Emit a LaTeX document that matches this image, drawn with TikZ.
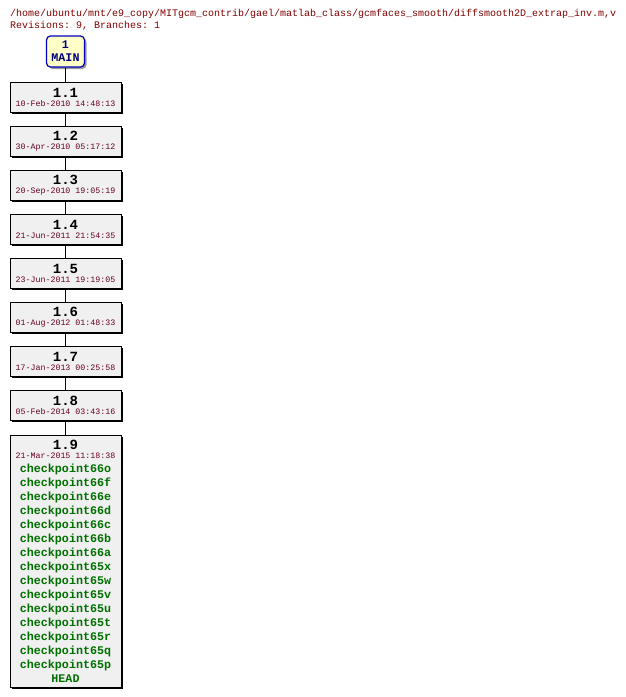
\documentclass[tikz,border=0pt]{standalone}
\usepackage{fontspec}
\setmonofont{Liberation Mono}
\usetikzlibrary{shadows}
\definecolor{headred}{HTML}{800000}
\definecolor{datered}{HTML}{660022}
\definecolor{tagblue}{HTML}{0000C0}
\definecolor{tagtext}{HTML}{000080}
\definecolor{tagfill}{HTML}{FFFFC8}
\definecolor{revfill}{HTML}{F0F0F0}
\definecolor{cpgreen}{HTML}{007000}
\tikzset{
  rev/.style={draw=black, fill=revfill, minimum width=111pt, minimum height=30pt,
    inner sep=0pt, align=center, font=\ttfamily\fontsize{11.7}{14}\selectfont,
    general shadow={shadow xshift=2pt, shadow yshift=-2pt, fill=black}},
  tag/.style={draw=tagblue, line width=1.2pt, fill=tagfill, rounded corners=4pt,
    minimum width=38pt, minimum height=31pt, inner sep=0pt, align=center,
    font=\ttfamily\fontsize{11.7}{14}\selectfont\bfseries, text=tagtext,
    general shadow={shadow xshift=2pt, shadow yshift=-2pt, fill=black!40}},
  head/.style={anchor=base west, inner sep=0pt, text=headred,
    font=\ttfamily\fontsize{10}{12}\selectfont},
}
\newcommand{\revno}[1]{{\fontsize{14}{14}\selectfont\bfseries #1}}
\newcommand{\revdate}[1]{{\fontsize{8.3}{9}\selectfont\color{datered}#1}}
\newcommand{\cp}[1]{{\fontsize{11.7}{14}\selectfont\bfseries\color{cpgreen}#1}}
\begin{document}
\begin{tikzpicture}[x=1pt, y=-1pt]
    \useasboundingbox (0, 0) rectangle (626, 697);
    \node[head] (h1) at (10, 16) {/home/ubuntu/mnt/e9\_copy/MITgcm\_contrib/gael/matlab\_class/gcmfaces\_smooth/diffsmooth2D\_extrap\_inv.m,v};
    \node[head] (h2) at (10, 28) {Revisions: 9, Branches: 1};
    \node[tag] (v0) at (65.5, 51.5) {1\\[-1pt]MAIN};
    \node[rev] (v1) at (65.5, 97) {\revno{1.1}\\[-5pt]\revdate{10-Feb-2010 14:48:13}};
    \node[rev] (v2) at (65.5, 141) {\revno{1.2}\\[-5pt]\revdate{30-Apr-2010 05:17:12}};
    \node[rev] (v3) at (65.5, 185) {\revno{1.3}\\[-5pt]\revdate{20-Sep-2010 19:05:19}};
    \node[rev] (v4) at (65.5, 229) {\revno{1.4}\\[-5pt]\revdate{21-Jun-2011 21:54:35}};
    \node[rev] (v5) at (65.5, 273) {\revno{1.5}\\[-5pt]\revdate{23-Jun-2011 19:19:05}};
    \node[rev] (v6) at (65.5, 317) {\revno{1.6}\\[-5pt]\revdate{01-Aug-2012 01:48:33}};
    \node[rev] (v7) at (65.5, 361) {\revno{1.7}\\[-5pt]\revdate{17-Jan-2013 00:25:58}};
    \node[rev] (v8) at (65.5, 405) {\revno{1.8}\\[-5pt]\revdate{05-Feb-2014 03:43:16}};
    \node[rev, minimum height=252pt] (v9) at (65.5, 561) {\revno{1.9}\\[-5pt]\revdate{21-Mar-2015 11:18:38}\\
      \cp{checkpoint66o}\\ \cp{checkpoint66f}\\ \cp{checkpoint66e}\\ \cp{checkpoint66d}\\
      \cp{checkpoint66c}\\ \cp{checkpoint66b}\\ \cp{checkpoint66a}\\ \cp{checkpoint65x}\\
      \cp{checkpoint65w}\\ \cp{checkpoint65v}\\ \cp{checkpoint65u}\\ \cp{checkpoint65t}\\
      \cp{checkpoint65r}\\ \cp{checkpoint65q}\\ \cp{checkpoint65p}\\ \cp{HEAD}};
    \draw (v0) -- (v1) -- (v2) -- (v3) -- (v4);
    \draw (v4) -- (v5) -- (v6) -- (v7) -- (v8);
    \draw (v8) -- (v9);
\end{tikzpicture}
\end{document}
